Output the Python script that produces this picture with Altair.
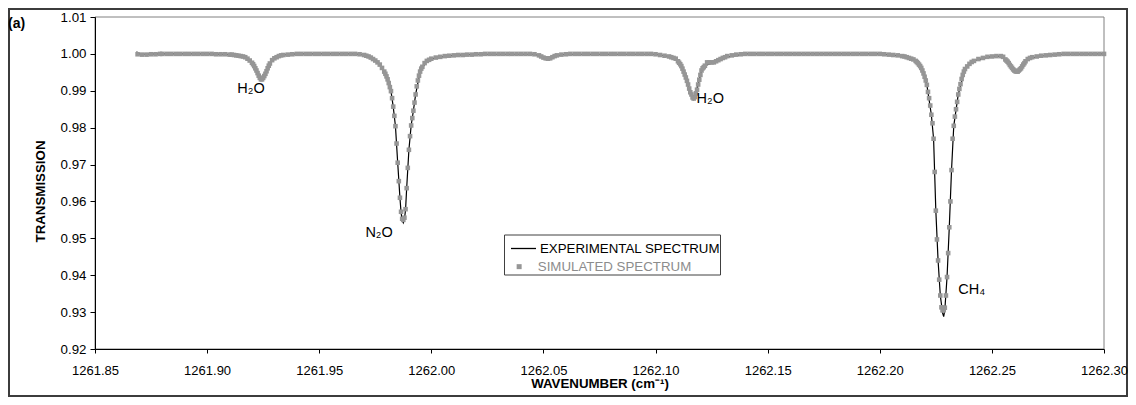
import altair as alt
import pandas as pd

FONT = "Liberation Sans, Arial, Helvetica, sans-serif"
GRAY = "#969696"
GRAY_TEXT = "#8c8c8c"

# axis ticks
x_ticks = [1261.85, 1261.90, 1261.95, 1262.00, 1262.05, 1262.10, 1262.15, 1262.20, 1262.25, 1262.30]
y_ticks = [0.92, 0.93, 0.94, 0.95, 0.96, 0.97, 0.98, 0.99, 1.00, 1.01]

EXP_NAME = "EXPERIMENTAL SPECTRUM"
SIM_NAME = "SIMULATED SPECTRUM"

# simulated spectrum (wavenumber cm-1, transmission)
simulated = [
    (1261.869, 0.9999), (1261.871, 0.9998), (1261.873, 0.9998), (1261.875, 0.9999), (1261.877, 0.9999),
    (1261.879, 1.0000), (1261.880, 1.0000), (1261.882, 1.0000), (1261.884, 1.0000), (1261.886, 1.0000),
    (1261.888, 1.0000), (1261.890, 1.0000), (1261.892, 1.0000), (1261.894, 1.0000), (1261.896, 1.0000),
    (1261.898, 1.0000), (1261.900, 1.0000), (1261.902, 1.0000), (1261.904, 0.9999), (1261.906, 0.9999),
    (1261.908, 0.9999), (1261.910, 0.9998), (1261.911, 0.9998), (1261.912, 0.9997), (1261.913, 0.9996),
    (1261.914, 0.9995), (1261.915, 0.9994), (1261.916, 0.9993), (1261.917, 0.9991), (1261.918, 0.9987),
    (1261.919, 0.9982), (1261.920, 0.9976), (1261.9205, 0.9972), (1261.921, 0.9967), (1261.9215, 0.9961),
    (1261.922, 0.9955), (1261.9225, 0.9948), (1261.923, 0.9941), (1261.9235, 0.9935), (1261.924, 0.9931),
    (1261.9245, 0.9931), (1261.925, 0.9935), (1261.9255, 0.9940), (1261.926, 0.9946), (1261.9265, 0.9953),
    (1261.927, 0.9961), (1261.9275, 0.9968), (1261.928, 0.9974), (1261.929, 0.9983), (1261.930, 0.9988),
    (1261.931, 0.9991), (1261.932, 0.9994), (1261.933, 0.9996), (1261.934, 0.9997), (1261.936, 0.9998),
    (1261.938, 0.9999), (1261.940, 1.0000), (1261.942, 1.0000), (1261.944, 1.0000), (1261.946, 1.0000),
    (1261.948, 1.0000), (1261.950, 1.0000), (1261.952, 1.0000), (1261.954, 1.0000), (1261.956, 1.0000),
    (1261.958, 1.0000), (1261.960, 1.0000), (1261.962, 1.0000), (1261.964, 1.0000), (1261.966, 1.0000),
    (1261.968, 0.9999), (1261.970, 0.9997), (1261.971, 0.9995), (1261.972, 0.9993), (1261.973, 0.9990),
    (1261.974, 0.9986), (1261.975, 0.9982), (1261.976, 0.9977), (1261.977, 0.9971), (1261.978, 0.9962),
    (1261.979, 0.9952), (1261.9795, 0.9946), (1261.980, 0.9939), (1261.9805, 0.9931), (1261.981, 0.9921),
    (1261.9815, 0.9910), (1261.982, 0.9899), (1261.9825, 0.9880), (1261.983, 0.9857), (1261.9835, 0.9832),
    (1261.984, 0.9804), (1261.9845, 0.9757), (1261.985, 0.9705), (1261.9855, 0.9655), (1261.986, 0.9610),
    (1261.9865, 0.9572), (1261.987, 0.9553), (1261.9875, 0.9550), (1261.988, 0.9556), (1261.9885, 0.9579),
    (1261.989, 0.9636), (1261.9895, 0.9691), (1261.990, 0.9740), (1261.9905, 0.9777), (1261.991, 0.9806),
    (1261.9915, 0.9826), (1261.992, 0.9846), (1261.9925, 0.9868), (1261.993, 0.9890), (1261.9935, 0.9912),
    (1261.994, 0.9928), (1261.9945, 0.9941), (1261.995, 0.9952), (1261.9955, 0.9960), (1261.996, 0.9965),
    (1261.997, 0.9975), (1261.998, 0.9981), (1261.999, 0.9984), (1262.000, 0.9987), (1262.002, 0.9990),
    (1262.004, 0.9992), (1262.006, 0.9994), (1262.008, 0.9995), (1262.010, 0.9996), (1262.012, 0.9997),
    (1262.014, 0.9997), (1262.016, 0.9998), (1262.018, 0.9998), (1262.020, 0.9999), (1262.022, 0.9999),
    (1262.024, 1.0000), (1262.026, 1.0000), (1262.028, 1.0000), (1262.030, 1.0000), (1262.032, 1.0000),
    (1262.034, 1.0000), (1262.036, 1.0000), (1262.038, 1.0000), (1262.040, 1.0000), (1262.042, 1.0000),
    (1262.044, 1.0000), (1262.046, 0.9999), (1262.048, 0.9996), (1262.049, 0.9993), (1262.050, 0.9990),
    (1262.051, 0.9988), (1262.052, 0.9987), (1262.053, 0.9988), (1262.054, 0.9991), (1262.055, 0.9994),
    (1262.056, 0.9996), (1262.058, 0.9998), (1262.060, 0.9999), (1262.062, 1.0000), (1262.064, 1.0000),
    (1262.066, 1.0000), (1262.068, 1.0000), (1262.070, 1.0000), (1262.072, 1.0000), (1262.074, 1.0000),
    (1262.076, 1.0000), (1262.078, 1.0000), (1262.080, 1.0000), (1262.082, 1.0000), (1262.084, 1.0000),
    (1262.086, 1.0000), (1262.088, 1.0000), (1262.090, 1.0000), (1262.092, 1.0000), (1262.094, 1.0000),
    (1262.096, 1.0000), (1262.098, 1.0000), (1262.100, 0.9999), (1262.102, 0.9997), (1262.104, 0.9995),
    (1262.106, 0.9993), (1262.107, 0.9991), (1262.108, 0.9989), (1262.109, 0.9987), (1262.110, 0.9980),
    (1262.1105, 0.9976), (1262.111, 0.9972), (1262.1115, 0.9967), (1262.112, 0.9960), (1262.1125, 0.9952),
    (1262.113, 0.9944), (1262.1135, 0.9936), (1262.114, 0.9927), (1262.1145, 0.9917), (1262.115, 0.9906),
    (1262.1155, 0.9896), (1262.116, 0.9890), (1262.1165, 0.9882), (1262.117, 0.9879), (1262.1175, 0.9883),
    (1262.118, 0.9893), (1262.1185, 0.9903), (1262.119, 0.9917), (1262.1195, 0.9930), (1262.120, 0.9943),
    (1262.1205, 0.9955), (1262.121, 0.9961), (1262.1215, 0.9964), (1262.122, 0.9968), (1262.123, 0.9977),
    (1262.124, 0.9977), (1262.125, 0.9977), (1262.126, 0.9977), (1262.127, 0.9980), (1262.128, 0.9983),
    (1262.129, 0.9986), (1262.130, 0.9989), (1262.131, 0.9991), (1262.132, 0.9994), (1262.134, 0.9996),
    (1262.136, 0.9998), (1262.138, 0.9999), (1262.140, 1.0000), (1262.142, 1.0000), (1262.144, 1.0000),
    (1262.146, 1.0000), (1262.148, 1.0000), (1262.150, 1.0000), (1262.152, 1.0000), (1262.154, 1.0000),
    (1262.156, 1.0000), (1262.158, 1.0000), (1262.160, 1.0000), (1262.162, 1.0000), (1262.164, 1.0000),
    (1262.166, 1.0000), (1262.168, 1.0000), (1262.170, 1.0000), (1262.172, 1.0000), (1262.174, 1.0000),
    (1262.176, 1.0000), (1262.178, 1.0000), (1262.180, 1.0000), (1262.182, 1.0000), (1262.184, 1.0000),
    (1262.186, 1.0000), (1262.188, 1.0000), (1262.190, 1.0000), (1262.192, 1.0000), (1262.194, 1.0000),
    (1262.196, 1.0000), (1262.198, 1.0000), (1262.200, 1.0000), (1262.202, 0.9999), (1262.204, 0.9998),
    (1262.206, 0.9997), (1262.208, 0.9996), (1262.210, 0.9994), (1262.211, 0.9993), (1262.212, 0.9991),
    (1262.213, 0.9989), (1262.214, 0.9987), (1262.215, 0.9985), (1262.216, 0.9981), (1262.2165, 0.9978),
    (1262.217, 0.9975), (1262.2175, 0.9971), (1262.218, 0.9967), (1262.2185, 0.9962), (1262.219, 0.9955),
    (1262.2195, 0.9947), (1262.220, 0.9938), (1262.2205, 0.9928), (1262.221, 0.9916), (1262.2215, 0.9897),
    (1262.222, 0.9880), (1262.2225, 0.9860), (1262.223, 0.9835), (1262.2235, 0.9812), (1262.224, 0.9770),
    (1262.2245, 0.9680), (1262.225, 0.9575), (1262.2255, 0.9497), (1262.226, 0.9440), (1262.2265, 0.9388),
    (1262.227, 0.9345), (1262.2275, 0.9313), (1262.228, 0.9305), (1262.2285, 0.9305), (1262.229, 0.9312),
    (1262.2295, 0.9345), (1262.230, 0.9395), (1262.2305, 0.9460), (1262.231, 0.9530), (1262.2315, 0.9600),
    (1262.232, 0.9685), (1262.2325, 0.9770), (1262.233, 0.9805), (1262.2335, 0.9830), (1262.234, 0.9850),
    (1262.2345, 0.9870), (1262.235, 0.9890), (1262.2355, 0.9905), (1262.236, 0.9918), (1262.2365, 0.9932),
    (1262.237, 0.9943), (1262.2375, 0.9952), (1262.238, 0.9959), (1262.239, 0.9966), (1262.240, 0.9973),
    (1262.241, 0.9978), (1262.242, 0.9981), (1262.244, 0.9986), (1262.246, 0.9989), (1262.248, 0.9992),
    (1262.250, 0.9993), (1262.252, 0.9994), (1262.254, 0.9994), (1262.255, 0.9992), (1262.256, 0.9985),
    (1262.2565, 0.9982), (1262.257, 0.9979), (1262.2575, 0.9975), (1262.258, 0.9970), (1262.2585, 0.9966),
    (1262.259, 0.9962), (1262.2595, 0.9958), (1262.260, 0.9955), (1262.2605, 0.9953), (1262.261, 0.9952),
    (1262.2615, 0.9952), (1262.262, 0.9955), (1262.2625, 0.9958), (1262.263, 0.9961), (1262.2635, 0.9966),
    (1262.264, 0.9971), (1262.2645, 0.9975), (1262.265, 0.9980), (1262.266, 0.9986), (1262.267, 0.9989),
    (1262.268, 0.9991), (1262.270, 0.9993), (1262.272, 0.9995), (1262.274, 0.9996), (1262.276, 0.9997),
    (1262.278, 0.9998), (1262.280, 0.9999), (1262.282, 1.0000), (1262.284, 1.0000), (1262.286, 1.0000),
    (1262.288, 1.0000), (1262.290, 1.0000), (1262.292, 1.0000), (1262.294, 1.0000), (1262.296, 1.0000),
    (1262.298, 1.0000), (1262.300, 1.0000),
]

# experimental spectrum (wavenumber cm-1, transmission)
experimental = [
    (1261.8685, 1.0006), (1261.8700, 0.9999), (1261.880, 1.0000), (1261.900, 1.0000), (1261.910, 0.9998),
    (1261.914, 0.9995), (1261.917, 0.9991), (1261.919, 0.9982), (1261.921, 0.9967), (1261.923, 0.9941),
    (1261.924, 0.9930), (1261.9245, 0.9930), (1261.926, 0.9946), (1261.928, 0.9974), (1261.930, 0.9988),
    (1261.934, 0.9997), (1261.940, 1.0000), (1261.966, 1.0000), (1261.970, 0.9997), (1261.974, 0.9986),
    (1261.977, 0.9971), (1261.980, 0.9939), (1261.982, 0.9899), (1261.983, 0.9857), (1261.984, 0.9804),
    (1261.985, 0.9705), (1261.986, 0.9610), (1261.9865, 0.9570), (1261.987, 0.9549), (1261.9875, 0.9542),
    (1261.988, 0.9552), (1261.9885, 0.9577), (1261.989, 0.9636), (1261.990, 0.9740), (1261.991, 0.9806),
    (1261.992, 0.9846), (1261.993, 0.9890), (1261.995, 0.9952), (1261.998, 0.9981), (1262.002, 0.9990),
    (1262.010, 0.9996), (1262.020, 0.9999), (1262.046, 0.9999), (1262.049, 0.9993), (1262.052, 0.9987),
    (1262.055, 0.9994), (1262.060, 0.9999), (1262.100, 0.9999), (1262.106, 0.9993), (1262.109, 0.9987),
    (1262.111, 0.9972), (1262.113, 0.9944), (1262.115, 0.9906), (1262.117, 0.9877), (1262.119, 0.9917),
    (1262.1205, 0.9955), (1262.122, 0.9968), (1262.126, 0.9977), (1262.130, 0.9989), (1262.140, 1.0000),
    (1262.200, 1.0000), (1262.210, 0.9994), (1262.216, 0.9981), (1262.219, 0.9955), (1262.221, 0.9916),
    (1262.223, 0.9835), (1262.224, 0.9770), (1262.225, 0.9575), (1262.226, 0.9440), (1262.227, 0.9345),
    (1262.228, 0.9298), (1262.2285, 0.9288), (1262.229, 0.9305), (1262.230, 0.9395), (1262.231, 0.9530),
    (1262.232, 0.9685), (1262.233, 0.9805), (1262.235, 0.9890), (1262.238, 0.9959), (1262.242, 0.9981),
    (1262.250, 0.9993), (1262.254, 0.9994), (1262.257, 0.9979), (1262.2605, 0.9952), (1262.262, 0.9955),
    (1262.265, 0.9980), (1262.270, 0.9993), (1262.280, 0.9999), (1262.300, 1.0000),
]

# peak annotations
peak_labels = ["H\u2082O", "N\u2082O", "H\u2082O", "CH\u2084"]
peak_wn = [1261.9196, 1261.9767, 1262.1244, 1262.2410]
peak_tr = [0.99035, 0.95136, 0.98772, 0.93591]

W, H = 1009, 332
PAD = {"left": 87, "top": 9, "right": 24, "bottom": 48}

sim_df = pd.DataFrame(simulated, columns=["wn", "tr"])
sim_df["series"] = SIM_NAME
exp_df = pd.DataFrame(experimental, columns=["wn", "tr"])
exp_df["series"] = EXP_NAME
ann_df = pd.DataFrame({"label": peak_labels, "wn": peak_wn, "tr": peak_tr})
one = pd.DataFrame({"k": [0]})

x_scale = alt.Scale(domain=[x_ticks[0], x_ticks[-1]], nice=False, zero=False)
y_scale = alt.Scale(domain=[y_ticks[0], y_ticks[-1]], nice=False, zero=False)

x_axis = alt.Axis(values=x_ticks, format=".2f", title="WAVENUMBER (cm\u207b\u00b9)", grid=False,
                  tickSize=4, labelPadding=11, labelFlush=False, labelOverlap=False,
                  labelFontSize=13, titleY=27, titleBaseline="top", zindex=1)
y_axis = alt.Axis(values=y_ticks, format=".2f", title="TRANSMISSION", grid=False,
                  tickSize=5, labelPadding=4, labelFlush=False, labelOverlap=False,
                  tickCount=10, titleX=-55, titleY=174, titleAngle=270, titleAlign="center",
                  titleBaseline="middle", zindex=1)


def X():
    return alt.X("wn:Q", scale=x_scale, axis=x_axis)


def Y():
    return alt.Y("tr:Q", scale=y_scale, axis=y_axis)


outer_frame = alt.Chart(one).mark_rect(fill="transparent", stroke="#3c3c3c", strokeWidth=2).encode(
    x=alt.value(-86), x2=alt.value(1032), y=alt.value(-8), y2=alt.value(379)
)
plot_frame = alt.Chart(one).mark_rect(fill="transparent", stroke="#808080", strokeWidth=1).encode(
    x=alt.value(0), x2=alt.value(W), y=alt.value(0), y2=alt.value(H)
)

exp_line = alt.Chart(exp_df).mark_line(strokeWidth=1.2, interpolate="linear").encode(
    x=X(), y=Y(),
    stroke=alt.Stroke("series:N", scale=alt.Scale(domain=[EXP_NAME], range=["#000000"]),
                      legend=alt.Legend(title=None, orient="none", legendX=415, legendY=218,
                                        symbolType="stroke", symbolSize=625, symbolStrokeWidth=1.3,
                                        labelFont=FONT, labelFontSize=13.3, labelColor="#000000",
                                        labelOffset=3, padding=0, labelLimit=400)),
)

sim_pts = alt.Chart(sim_df).mark_square(size=21, opacity=1, strokeWidth=0).encode(
    x=X(), y=Y(),
    fill=alt.Fill("series:N", scale=alt.Scale(domain=[SIM_NAME], range=[GRAY]),
                  legend=alt.Legend(title=None, orient="none", legendX=417.5, legendY=243,
                                    symbolType="square", symbolSize=25, symbolStrokeWidth=0,
                                    labelFont=FONT, labelFontSize=13.3, labelColor=GRAY_TEXT,
                                    labelOffset=12, padding=0, labelLimit=400)),
)

annotations = alt.Chart(ann_df).mark_text(font=FONT, fontSize=14.5, color="#000000",
                                          align="center", baseline="middle").encode(
    x=X(), y=Y(), text="label:N"
)

legend_box = alt.Chart(one).mark_rect(fill="transparent", stroke="#404040", strokeWidth=1).encode(
    x=alt.value(409.5), x2=alt.value(625.5), y=alt.value(218), y2=alt.value(258)
)

panel_label = alt.Chart(pd.DataFrame({"t": ["(a)"]})).mark_text(
    font=FONT, fontSize=14, fontWeight="bold", color="#000000", align="left", baseline="middle"
).encode(x=alt.value(-87), y=alt.value(7), text="t:N")

chart = alt.layer(
    outer_frame, plot_frame, exp_line, sim_pts, annotations, legend_box, panel_label
).properties(
    width=W, height=H, padding=PAD, autosize=alt.AutoSizeParams(type="none"), background="white"
).configure_view(
    stroke=None
).configure_axis(
    domainColor="#000000", tickColor="#000000", labelColor="#000000", titleColor="#000000",
    labelFont=FONT, labelFontSize=13.3, titleFont=FONT, titleFontSize=13.3, titleFontWeight="bold",
    domainWidth=1, tickWidth=1
)

chart.save("out.html", embed_options={"renderer": "svg", "actions": False})
